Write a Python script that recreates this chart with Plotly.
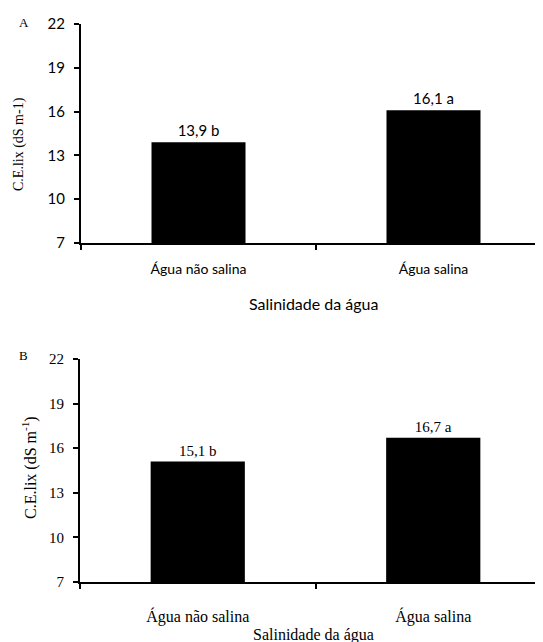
import plotly.graph_objects as go

W, H = 543, 642
OFF = 8  # page body margin offset

categories = ["Água não salina", "Água salina"]
values_a = [13.9, 16.1]
values_b = [15.1, 16.7]
letters_a = ["b", "a"]
letters_b = ["b", "a"]
yticks = [7, 10, 13, 16, 19, 22]

def fmt(v, l):
    return f"{v:.1f}".replace(".", ",") + " " + l

SANS = "Lato"
SERIF = "Liberation Serif"

def px(x):
    return (x - OFF) / W

def py(y):
    return 1 - (y - OFF) / H

fig = go.Figure()
fig.add_trace(go.Bar(
    x=categories, y=values_a, xaxis="x", yaxis="y",
    marker=dict(color="black", line=dict(color="black", width=0)),
    width=0.4,
    text=[fmt(v, l) for v, l in zip(values_a, letters_a)],
    textposition="outside", cliponaxis=False,
    textfont=dict(family=SANS, size=15, color="black"),
    showlegend=False,
))
fig.add_trace(go.Bar(
    x=categories, y=values_b, xaxis="x2", yaxis="y2",
    marker=dict(color="black", line=dict(color="black", width=0)),
    width=0.4,
    text=[fmt(v, l) for v, l in zip(values_b, letters_b)],
    textposition="outside", cliponaxis=False,
    textfont=dict(family=SERIF, size=15, color="black"),
    showlegend=False,
))

def xax(domain, anchor, fam, size, standoff):
    return dict(
        domain=domain, anchor=anchor, type="category",
        range=[-0.5, 1.5], automargin=False,
        showline=True, linecolor="black", linewidth=2,
        ticks="outside", tickson="boundaries", ticklen=5, tickwidth=2, tickcolor="black",
        tickfont=dict(family=fam, size=size, color="black"),
        ticklabelstandoff=standoff,
        showgrid=False, zeroline=False, fixedrange=True,
    )

def yax(domain, anchor, fam, size):
    return dict(
        domain=domain, anchor=anchor, automargin=False,
        range=[7, 22], tickvals=yticks,
        showline=True, linecolor="black", linewidth=2,
        ticks="outside", ticklen=5, tickwidth=2, tickcolor="black",
        tickfont=dict(family=fam, size=size, color="black"),
        ticklabelstandoff=6,
        showgrid=False, zeroline=False, fixedrange=True,
    )

fig.update_layout(
    template="none",
    width=W, height=H,
    margin=dict(l=0, r=0, t=0, b=0, pad=0),
    paper_bgcolor="white", plot_bgcolor="white",
    font=dict(family=SERIF, color="black"),
    xaxis=xax([px(81), 1], "y", SANS, 14, 12),
    yaxis=yax([py(243), py(24)], "x", SANS, 15),
    xaxis2=xax([px(80), 1], "y2", SERIF, 16, 19),
    yaxis2=yax([py(582), py(359)], "x2", SERIF, 15),
    bargap=0.6,
)

ann = [
    dict(text="A", x=px(24), y=py(22), font=dict(family=SERIF, size=13)),
    dict(text="C.E.lix (dS m-1)", x=px(19), y=py(144), textangle=-90,
         font=dict(family=SERIF, size=14)),
    dict(text="Salinidade da água", x=px(313), y=py(303), font=dict(family=SANS, size=16)),
    dict(text="B", x=px(23), y=py(356), font=dict(family=SERIF, size=13)),
    dict(text="C.E.lix (dS m<sup>-1</sup>)", x=px(29), y=py(468), textangle=-90,
         font=dict(family=SERIF, size=16)),
    dict(text="Salinidade da água", x=px(313), y=py(635), font=dict(family=SERIF, size=16)),
]
for a in ann:
    a.update(xref="paper", yref="paper", showarrow=False, xanchor="center", yanchor="middle")
    a["font"]["color"] = "black"
fig.update_layout(annotations=ann)

fig.write_html("out.html")
